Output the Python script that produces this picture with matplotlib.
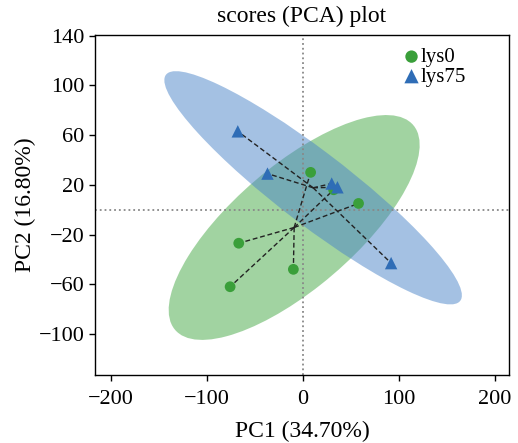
import matplotlib
matplotlib.use('Agg')
import matplotlib.pyplot as plt
import numpy as np
from matplotlib.patches import Ellipse

plt.rcParams['font.family'] = 'serif'
plt.rcParams['font.serif'] = ['Liberation Serif', 'DejaVu Serif']

# PCA scores
lys0_pc1 = [8, 32, 58, -67, -10, -76]
lys0_pc2 = [30, 16, 5, -27, -48, -62]
lys75_pc1 = [-68, -37, 30, 36, 92]
lys75_pc2 = [63, 29, 21, 18, -43]

groups = ['lys0', 'lys75']
xticks = [-200, -100, 0, 100, 200]
yticks = [-100, -60, -20, 20, 60, 100, 140]

point_colors = {'lys0': '#3a9f3a', 'lys75': '#2f6db6'}
fill_colors = {'lys0': '#45a845', 'lys75': '#4a84c8'}
markers = {'lys0': 'o', 'lys75': '^'}
sizes = {'lys0': 60, 'lys75': 80}

data = {'lys0': (np.array(lys0_pc1), np.array(lys0_pc2)),
        'lys75': (np.array(lys75_pc1), np.array(lys75_pc2))}

fig = plt.figure(figsize=(5.18, 4.43), dpi=100)
ax = fig.add_axes([0.1834, 0.1535, 0.7992, 0.7675])

# 95% confidence ellipses
k = np.sqrt(5.991)
for g in groups:
    x, y = data[g]
    cov = np.cov(x, y)
    vals, vecs = np.linalg.eigh(cov)
    order = vals.argsort()[::-1]
    vals, vecs = vals[order], vecs[:, order]
    angle = np.degrees(np.arctan2(vecs[1, 0], vecs[0, 0]))
    ell = Ellipse((x.mean(), y.mean()), 2 * k * np.sqrt(vals[0]), 2 * k * np.sqrt(vals[1]),
                  angle=angle, facecolor=fill_colors[g], alpha=0.5, edgecolor='none', zorder=1)
    ax.add_patch(ell)

ax.axvline(0, color='#888888', linestyle=':', linewidth=1.3, zorder=2)
ax.axhline(0, color='#888888', linestyle=':', linewidth=1.3, zorder=2)

# lines from group centroid to each sample
for g in groups:
    x, y = data[g]
    cx, cy = x.mean(), y.mean()
    for xi, yi in zip(x, y):
        ax.plot([cx, xi], [cy, yi], color='#222222', linestyle=(0, (3.5, 2)), linewidth=1.0, zorder=3)

for g in groups:
    x, y = data[g]
    ax.scatter(x, y, s=sizes[g], marker=markers[g], color=point_colors[g],
               edgecolor='none', label=g, zorder=4)

ax.set_xlim(-217, 215)
ax.set_ylim(-133, 140.5)
ax.set_xticks(xticks)
ax.set_yticks(yticks)
ax.set_xticklabels(['\u2212200', '\u2212100', '0', '100', '200'])
ax.set_yticklabels(['\u2212100', '\u221260', '\u221220', '20', '60', '100', '140'])
ax.tick_params(axis='both', direction='out', labelsize=16, length=4, width=1)
ax.tick_params(axis='x', pad=7)

for sp in ax.spines.values():
    sp.set_linewidth(1.0)

ax.set_xlabel('PC1 (34.70%)', fontsize=17, labelpad=8)
ax.set_ylabel('PC2 (16.80%)', fontsize=17, labelpad=2)
ax.set_title('scores (PCA) plot', fontsize=17, pad=9)

ax.legend(loc='upper right', frameon=False, fontsize=15, handlelength=0.8,
          handletextpad=0.05, borderaxespad=0.2, labelspacing=0.0,
          markerscale=1.15, bbox_to_anchor=(0.927, 1.0))

fig.savefig('out.png', dpi=100)
